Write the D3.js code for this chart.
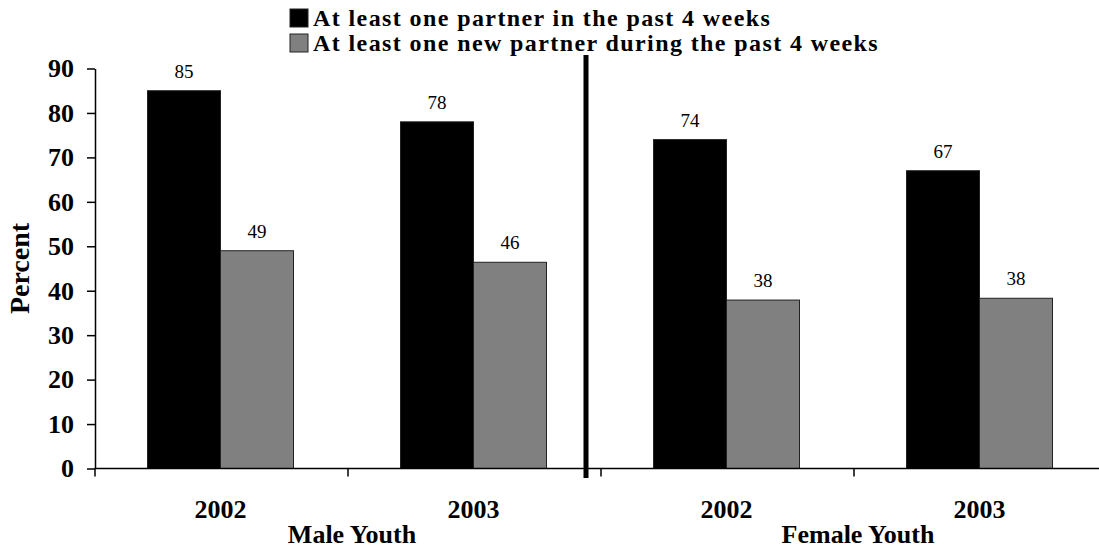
<!DOCTYPE html>
<html>
<head>
<meta charset="utf-8">
<script src="https://cdn.jsdelivr.net/npm/d3@7"></script>
<style>
  body { margin: 0; background: #fff; }
  svg { display: block; font-family: "Liberation Serif", "Times New Roman", serif; }
</style>
</head>
<body>
<div id="chart"></div>
<script>
const width = 1099;
const height = 548;

// data
const categories = ["M2002", "M2003", "F2002", "F2003"];
const yearLabels = ["2002", "2003", "2002", "2003"];
const groups = ["Male Youth", "Female Youth"];
const seriesNames = [
    "At least one partner in the past 4 weeks",
    "At least one new partner during the past 4 weeks"
];
const anyPartner = [85, 78, 74, 67];
const newPartner = [49, 46.4, 37.9, 38.3];
const yTicks = [0, 10, 20, 30, 40, 50, 60, 70, 80, 90];

const colors = ["#000000", "#808080"];

const svg = d3.select("#chart")
    .append("svg")
    .attr("width", width)
    .attr("height", height);

const x = d3.scaleBand()
    .domain(categories)
    .range([95, 1107]);

const inner = d3.scaleBand()
    .domain([0, 1])
    .range([0, 146])
    .padding(0);

const y = d3.scaleLinear()
    .domain([0, 90])
    .range([468.5, 68.5]);

// y axis
const yAxis = svg.append("g")
    .attr("transform", "translate(95,0)")
    .call(d3.axisLeft(y).tickValues(yTicks).tickSize(8).tickPadding(13).tickSizeOuter(0));
yAxis.select(".domain").attr("stroke", "#000").attr("stroke-width", 1.5);
yAxis.selectAll(".tick line").attr("stroke", "#000").attr("stroke-width", 1.5);
yAxis.selectAll("text")
    .attr("font-family", "Liberation Serif, serif")
    .attr("font-size", 26)
    .attr("font-weight", "bold")
    .attr("fill", "#000");

svg.append("text")
    .attr("transform", `translate(29,${(y(0) + y(90)) / 2}) rotate(-90)`)
    .attr("text-anchor", "middle")
    .attr("font-size", 28)
    .attr("font-weight", "bold")
    .text("Percent");

// bars
const rows = categories.map((c, i) => ({ cat: c, values: [anyPartner[i], newPartner[i]] }));
const groupOffset = (x.bandwidth() - inner.range()[1]) / 2 - 1;

const cat = svg.append("g")
    .selectAll("g")
    .data(rows)
    .join("g")
    .attr("transform", d => `translate(${x(d.cat) + groupOffset},0)`);

cat.selectAll("rect")
    .data(d => d.values.map((v, k) => ({ v, k })))
    .join("rect")
    .attr("x", d => inner(d.k))
    .attr("width", inner.bandwidth())
    .attr("y", d => y(d.v))
    .attr("height", d => y(0) - y(d.v))
    .attr("fill", d => colors[d.k])
    .attr("stroke", "#222")
    .attr("stroke-width", 1);

cat.selectAll("text")
    .data(d => d.values.map((v, k) => ({ v, k })))
    .join("text")
    .attr("x", d => inner(d.k) + inner.bandwidth() / 2)
    .attr("y", d => y(d.v) - 13)
    .attr("text-anchor", "middle")
    .attr("font-size", 19)
    .text(d => d3.format(".0f")(d.v));

// x axis
svg.append("line")
    .attr("x1", 95).attr("x2", width)
    .attr("y1", y(0)).attr("y2", y(0))
    .attr("stroke", "#000").attr("stroke-width", 1.5);

const tickXs = categories.map(c => x(c)).concat([x.range()[1]]);
svg.append("g")
    .selectAll("line")
    .data(tickXs)
    .join("line")
    .attr("x1", d => d).attr("x2", d => d)
    .attr("y1", y(0)).attr("y2", y(0) + 8)
    .attr("stroke", "#000").attr("stroke-width", 1.5);

svg.append("g")
    .selectAll("text")
    .data(categories)
    .join("text")
    .attr("x", (d) => x(d) + x.bandwidth() / 2 - 1)
    .attr("y", 518)
    .attr("text-anchor", "middle")
    .attr("font-size", 26)
    .attr("font-weight", "bold")
    .text((d, i) => yearLabels[i]);

svg.append("g")
    .selectAll("text")
    .data(groups)
    .join("text")
    .attr("x", (d, i) => x(categories[i * 2 + 1]) + 4)
    .attr("y", 543)
    .attr("text-anchor", "middle")
    .attr("font-size", 26)
    .attr("font-weight", "bold")
    .text(d => d);

// divider between male and female
svg.append("line")
    .attr("x1", 586).attr("x2", 586)
    .attr("y1", 55).attr("y2", 478)
    .attr("stroke", "#000").attr("stroke-width", 5);

// legend
const legend = svg.append("g")
    .selectAll("g")
    .data(seriesNames)
    .join("g")
    .attr("transform", (d, i) => `translate(290,${9 + i * 25})`);

legend.append("rect")
    .attr("width", 18).attr("height", 18)
    .attr("fill", (d, i) => colors[i])
    .attr("stroke", "#222").attr("stroke-width", 1);

legend.append("text")
    .attr("x", 23)
    .attr("y", 17)
    .attr("font-size", 24)
    .attr("letter-spacing", 1.4)
    .attr("font-weight", "bold")
    .text(d => d);
</script>
</body>
</html>
